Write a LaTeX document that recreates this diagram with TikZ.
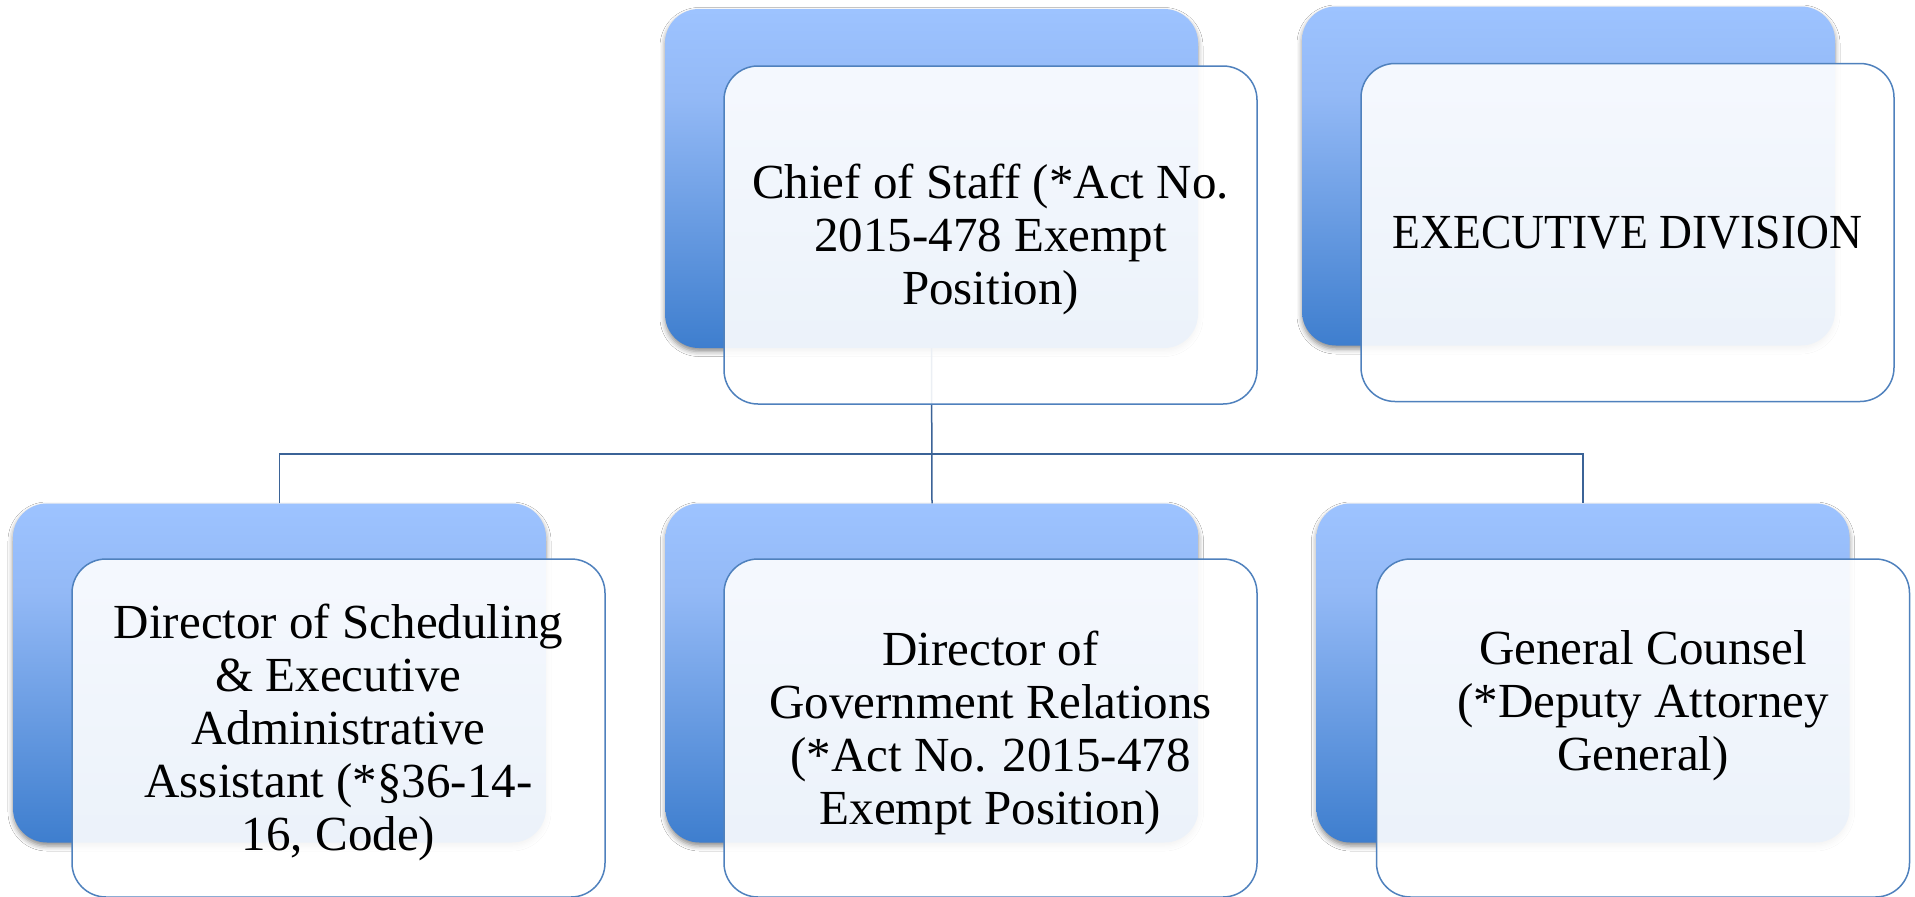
\documentclass[tikz,border=0pt]{standalone}
\usepackage{fontspec}
\setmainfont{Liberation Serif}
\newfontfamily\execfont[FakeStretch=0.93]{Liberation Serif}
\usetikzlibrary{shadows.blur}
\definecolor{btop}{HTML}{9DC3FF}
\definecolor{bmid}{HTML}{93B9F6}
\definecolor{bbot}{HTML}{3E7ECE}
\definecolor{fline}{HTML}{4F81BD}
\definecolor{cline}{HTML}{3B6397}
\pgfdeclareverticalshading{backsh}{100bp}{color(0bp)=(bbot); color(25bp)=(bbot); color(62bp)=(bmid); color(75bp)=(btop); color(100bp)=(btop)}
\begin{document}
\begin{tikzpicture}[x=1pt,y=-1pt,
  backbox/.style={rectangle, rounded corners=34pt, minimum width=533pt, minimum height=339pt, inner sep=0pt, shade, shading=backsh,
    blur shadow={shadow xshift=0pt, shadow yshift=-3.5pt, shadow blur radius=5pt, shadow opacity=45}},
  frontbox/.style={rectangle, rounded corners=34pt, minimum width=533pt, minimum height=338pt, inner sep=0pt, draw=fline, line width=1.5pt, fill=white, fill opacity=0.9},
  boxtext/.style={align=center, font=\fontsize{49}{53}\selectfont, text=black, inner sep=0pt},
  conn/.style={draw=cline, line width=1.5pt}]
\fill[white] (0,0) rectangle (1915,897);
\useasboundingbox (0,0) rectangle (1915,897);
% back boxes
\node[backbox] (tb1) at (931.5,178.5) {};
\node[backbox] (tb2) at (1568.5,176) {};
\node[backbox] (bb1) at (279.5,673) {};
\node[backbox] (bb2) at (932,673) {};
\node[backbox] (bb3) at (1583,673) {};
% connectors
\coordinate (hub) at (932,454);
\draw[conn] (tb1.south) -- (bb2.north);
\draw[conn] (bb1.north) |- (hub) -| (bb3.north);
% front boxes
\node[frontbox] (tf1) at (990.5,235) {};
\node[frontbox] (tf2) at (1627.5,232.5) {};
\node[frontbox] (bf1) at (338.5,728) {};
\node[frontbox] (bf2) at (990.5,728) {};
\node[frontbox] (bf3) at (1643,728) {};
% texts
\node[boxtext, yshift=-4.5pt] (x1) at (tf1.center) {Chief of Staff (*Act No.\\2015-478 Exempt\\Position)};
\node[boxtext, font=\execfont\fontsize{49}{53}\selectfont] (x2) at (tf2.center) {EXECUTIVE DIVISION};
\node[boxtext, yshift=-4.5pt] (x3) at (bf1.center) {Director of Scheduling\\\& Executive\\Administrative\\Assistant (*§36-14-\\16, Code)};
\node[boxtext, yshift=-4.5pt] (x4) at (bf2.center) {Director of\\Government Relations\\(*Act No. 2015-478\\Exempt Position)};
\node[boxtext, yshift=22pt] (x5) at (bf3.center) {General Counsel\\(*Deputy Attorney\\General)};
\end{tikzpicture}
\end{document}
